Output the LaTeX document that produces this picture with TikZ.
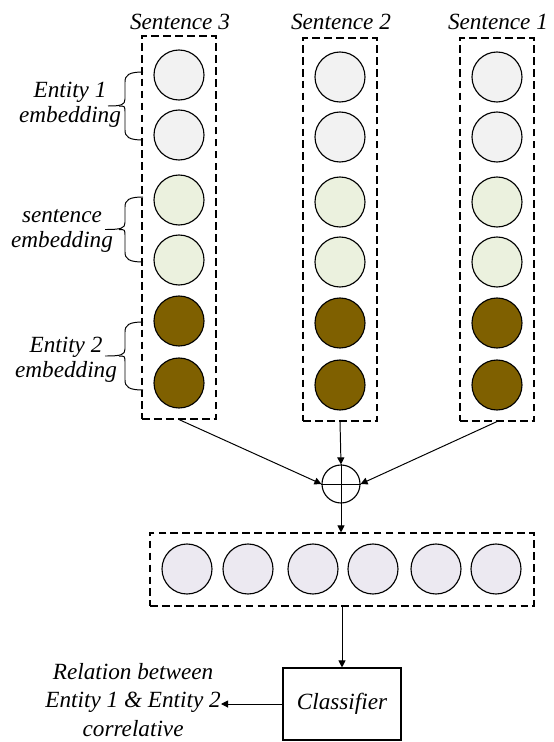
\documentclass[tikz,border=0pt]{standalone}
\usepackage{fontspec}
\setmainfont{Liberation Serif}
\usetikzlibrary{arrows.meta}
\definecolor{entA}{RGB}{242,242,242}
\definecolor{sentC}{RGB}{235,241,222}
\definecolor{entB}{RGB}{127,96,0}
\definecolor{outC}{RGB}{236,233,241}
\tikzset{
  unit/.style={circle,draw,line width=0.8pt,minimum size=50*0.025cm,inner sep=0pt},
  group/.style={draw,line width=0.8pt,dash pattern=on 5.5pt off 3pt,inner sep=0pt},
  lab/.style={font=\itshape\fontsize{16.5}{17.7}\selectfont,align=center,inner sep=0pt},
  res/.style={font=\itshape\fontsize{16.5}{20}\selectfont,align=center,inner sep=0pt},
  conn/.style={line width=0.7pt,-{Triangle[length=5pt,width=5pt]}},
  brc/.style={line width=0.7pt}
}
\begin{document}
\begin{tikzpicture}[x=0.025cm,y=-0.025cm]
\useasboundingbox (0,0) rectangle (553,742);
% sentence columns: number / centre x / shift
\foreach \s/\cx/\dy in {3/179/-2,2/340/0,1/497/0}{
  \node[group,minimum width=74*0.025cm,minimum height=383*0.025cm] (box\s) at (\cx,229.5+\dy) {};
  \node[lab] (title\s) at (\cx+1,22) {Sentence \s};
  \foreach \y/\c [count=\i] in {77/entA,137/entA,202/sentC,262/sentC,323/entB,385/entB}
    \node[unit,fill=\c] (s\s-\i) at (\cx,\y+\dy) {};
}
% braces on the left of sentence 3
\foreach \ya/\yb/\xt in {72/140/108,197/262/105,322/390/105}{
  \pgfmathsetmacro{\ym}{(\ya+\yb)/2}
  \draw[brc] (143,\ya) .. controls (129,\ya) and (125,\ya+3) .. (125,\ya+10)
    -- (125,\ym-7) .. controls (125,\ym-1) and (121,\ym) .. (\xt,\ym);
  \draw[brc] (119,\ym) .. controls (125,\ym) .. (125,\ym+7)
    -- (125,\yb-10) .. controls (125,\yb-3) and (129,\yb) .. (143,\yb);
}
\node[lab] (ent1) at (70,105) {Entity 1\\embedding};
\node[lab] (sent) at (62,231) {sentence\\embedding};
\node[lab] (ent2) at (66,360) {Entity 2\\embedding};
% concatenation
\node[circle,draw,line width=0.8pt,minimum size=38*0.025cm,inner sep=0pt] (plus) at (341,484) {};
\draw[line width=0.7pt] (plus.north)--(plus.south) (plus.west)--(plus.east);
\draw[conn] (box3.south) -- (plus.west);
\draw[conn] (box2.south) -- (plus.north);
\draw[conn] (box1.south) -- (plus.east);
% joined vector
\node[group,minimum width=384*0.025cm,minimum height=73*0.025cm] (row) at (342,569.5) {};
\foreach \x [count=\i] in {187,248,313,373,436,496}
  \node[unit,fill=outC] (o\i) at (\x,569) {};
\draw[conn] (plus.south) -- (plus.south |- row.north);
% classifier and output
\node[draw,line width=0.8pt,minimum width=118*0.025cm,minimum height=72*0.025cm,lab] (cls) at (342,704) {Classifier};
\node[res,anchor=east] (rel) at (221,700) {Relation between\\Entity 1 \& Entity 2\\correlative};
\draw[conn] (row.south -| cls.north) -- (cls.north);
\draw[conn] (cls.west) -- (rel.east |- cls.west);
\end{tikzpicture}
\end{document}
